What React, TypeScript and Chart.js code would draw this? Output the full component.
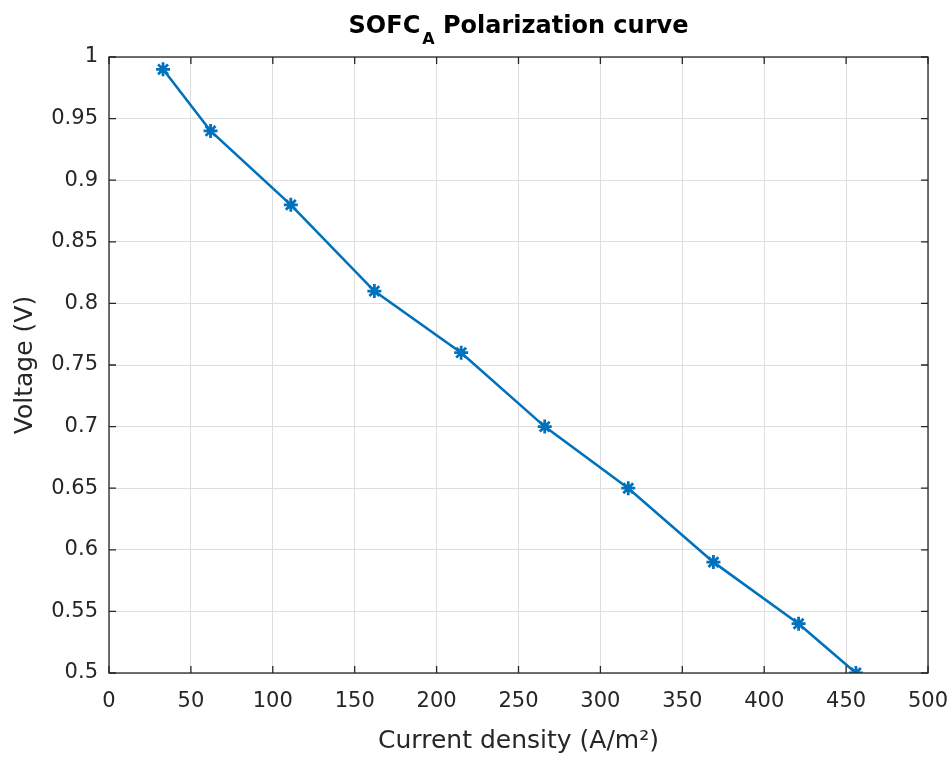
import React, { useEffect, useRef } from "react";
import { Chart, registerables } from "chart.js";

Chart.register(...registerables);

// Polarization curve samples
const currentDensity = [33, 62, 111, 162, 215, 266, 317, 369, 421, 456];
const voltage = [0.99, 0.94, 0.88, 0.81, 0.76, 0.7, 0.65, 0.59, 0.54, 0.5];

const xTicks = [0, 50, 100, 150, 200, 250, 300, 350, 400, 450, 500];
const yTicks = [0.5, 0.55, 0.6, 0.65, 0.7, 0.75, 0.8, 0.85, 0.9, 0.95, 1];

const titleMain = "SOFC";
const titleSub = "A";
const titleRest = " Polarization curve";
const xTitle = "Current density (A/m²)";
const yTitle = "Voltage (V)";

const FONT = "'DejaVu Sans', sans-serif";
const AXIS_COLOR = "#262626";
const LINE_COLOR = "#0072BD";

// Frame around the plot, inward tick marks on all four sides, and the
// title with its subscript.
const framePlugin = {
  id: "frame",
  afterDraw(chart: any) {
    const { ctx, chartArea } = chart;
    const { left, right, top, bottom } = chartArea;
    const xs = chart.scales.x;
    const ys = chart.scales.y;
    ctx.save();
    ctx.strokeStyle = AXIS_COLOR;
    ctx.lineWidth = 1.3;
    ctx.strokeRect(left, top, right - left, bottom - top);
    const len = 7;
    ctx.beginPath();
    xTicks.forEach((v) => {
      const px = xs.getPixelForValue(v);
      ctx.moveTo(px, bottom);
      ctx.lineTo(px, bottom - len);
      ctx.moveTo(px, top);
      ctx.lineTo(px, top + len);
    });
    yTicks.forEach((v) => {
      const py = ys.getPixelForValue(v);
      ctx.moveTo(left, py);
      ctx.lineTo(left + len, py);
      ctx.moveTo(right, py);
      ctx.lineTo(right - len, py);
    });
    ctx.stroke();

    // Title: SOFC_A Polarization curve
    ctx.fillStyle = "#000";
    ctx.textBaseline = "alphabetic";
    ctx.textAlign = "left";
    const mainFont = `bold 24px ${FONT}`;
    const subFont = `bold 16px ${FONT}`;
    ctx.font = mainFont;
    const w1 = ctx.measureText(titleMain).width;
    const w3 = ctx.measureText(titleRest).width;
    ctx.font = subFont;
    const w2 = ctx.measureText(titleSub).width + 2;
    const total = w1 + w2 + w3;
    const cx = (left + right) / 2;
    let x = cx - total / 2;
    const baseY = 33;
    ctx.font = mainFont;
    ctx.fillText(titleMain, x, baseY);
    x += w1 + 2;
    ctx.font = subFont;
    ctx.fillText(titleSub, x, baseY + 11);
    x += w2 - 2;
    ctx.font = mainFont;
    ctx.fillText(titleRest, x, baseY);
    ctx.restore();
  },
};

const bgPlugin = {
  id: "bg",
  beforeDraw(chart: any) {
    const { ctx, width, height } = chart;
    ctx.save();
    ctx.fillStyle = "#fff";
    ctx.fillRect(0, 0, width, height);
    ctx.restore();
  },
};

export default function App() {
  const canvasRef = useRef<HTMLCanvasElement | null>(null);

  useEffect(() => {
    if (!canvasRef.current) return;
    const chart = new Chart(canvasRef.current, {
      type: "line",
      data: {
        datasets: [
          {
            data: currentDensity.map((c, i) => ({ x: c, y: voltage[i] })),
            borderColor: LINE_COLOR,
            backgroundColor: LINE_COLOR,
            borderWidth: 2.6,
            pointStyle: "star",
            pointRadius: 7,
            pointBorderWidth: 2.8,
            pointBorderColor: LINE_COLOR,
            tension: 0,
            fill: false,
          },
        ],
      },
      options: {
        animation: false,
        responsive: false,
        maintainAspectRatio: false,
        layout: { padding: { top: 57, right: 24, left: 0, bottom: 0 } },
        plugins: {
          legend: { display: false },
          tooltip: { enabled: false },
          title: { display: false },
        },
        scales: {
          x: {
            type: "linear",
            min: 0,
            max: 500,
            afterBuildTicks(scale: any) {
              scale.ticks = xTicks.map((v) => ({ value: v }));
            },
            afterFit(scale: any) {
              scale.height = 87;
              scale.paddingLeft = 0;
              scale.paddingRight = 0;
            },
            ticks: {
              color: AXIS_COLOR,
              font: { family: FONT, size: 21 },
              padding: 16,
              maxRotation: 0,
              autoSkip: false,
              callback: (v: any) => String(v),
            },
            grid: {
              color: "#dedede",
              lineWidth: 1,
              drawTicks: false,
            },
            border: { display: false },
            title: {
              display: true,
              text: xTitle,
              color: AXIS_COLOR,
              font: { family: FONT, size: 25 },
              padding: { top: 0, bottom: 4 },
            },
          },
          y: {
            type: "linear",
            min: 0.5,
            max: 1,
            afterBuildTicks(scale: any) {
              scale.ticks = yTicks.map((v) => ({ value: v }));
            },
            afterFit(scale: any) {
              scale.width = 109;
              scale.paddingTop = 0;
              scale.paddingBottom = 0;
            },
            ticks: {
              color: AXIS_COLOR,
              font: { family: FONT, size: 21 },
              padding: 11,
              autoSkip: false,
              callback: (v: any) => String(Number(Number(v).toFixed(2))),
            },
            grid: {
              color: "#dedede",
              lineWidth: 1,
              drawTicks: false,
            },
            border: { display: false },
            title: {
              display: true,
              text: yTitle,
              color: AXIS_COLOR,
              font: { family: FONT, size: 25 },
              padding: { top: 10, bottom: 0 },
            },
          },
        },
      },
      plugins: [bgPlugin, framePlugin],
    } as any);
    return () => chart.destroy();
  }, []);

  return (
    <div style={{ position: "fixed", left: 0, top: 0, width: 952, height: 760, background: "#fff" }}>
      <canvas ref={canvasRef} width={952} height={760} style={{ display: "block", width: 952, height: 760 }} />
    </div>
  );
}
